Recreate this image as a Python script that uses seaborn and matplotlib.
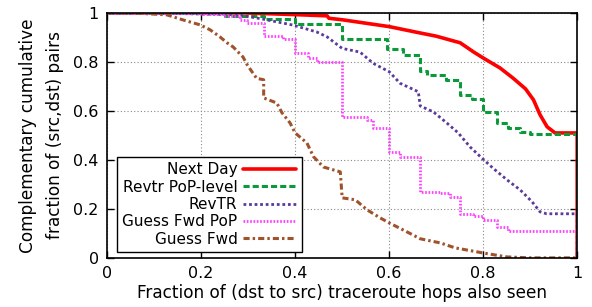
import matplotlib
matplotlib.use('Agg')
import matplotlib.pyplot as plt
import seaborn as sns
import pandas as pd

# points
next_day_x = [0, 0.29, 0.4, 0.468, 0.472, 0.5, 0.6, 0.666, 0.7, 0.751, 0.78, 0.8, 0.836, 0.864, 0.89,
              0.907, 0.921, 0.936, 0.953, 1.0, 1.0]
next_day_y = [1, 1, 0.993, 0.988, 0.978, 0.972, 0.944, 0.918, 0.905, 0.878, 0.84, 0.816, 0.775, 0.733, 0.69,
              0.645, 0.584, 0.535, 0.51, 0.51, 0]

pop_x = [0, 0.25, 0.333, 0.4, 0.5, 0.596, 0.63, 0.666, 0.68, 0.72, 0.75, 0.777, 0.8, 0.83, 0.853, 0.879,
         0.9, 1.0, 1.0]
pop_y = [1, 0.989, 0.974, 0.955, 0.893, 0.853, 0.829, 0.763, 0.747, 0.727, 0.665, 0.65, 0.597, 0.552, 0.53,
         0.515, 0.505, 0.505, 0]

revtr_x = [0, 0.16, 0.28, 0.333, 0.396, 0.446, 0.468, 0.5, 0.538, 0.566, 0.6, 0.623, 0.662, 0.666, 0.694,
           0.723, 0.747, 0.772, 0.798, 0.821, 0.851, 0.879, 0.904, 0.921, 0.935, 1.0, 1.0]
revtr_y = [1, 0.997, 0.992, 0.974, 0.95, 0.922, 0.902, 0.855, 0.84, 0.794, 0.76, 0.713, 0.678, 0.62, 0.596,
           0.55, 0.51, 0.453, 0.406, 0.366, 0.318, 0.277, 0.229, 0.188, 0.18, 0.18, 0]

gfpop_x = [0, 0.2, 0.247, 0.283, 0.298, 0.333, 0.375, 0.4, 0.428, 0.446, 0.5, 0.553, 0.566, 0.6, 0.623,
           0.666, 0.709, 0.73, 0.75, 0.779, 0.8, 0.83, 0.853, 1.0, 1.0]
gfpop_y = [1, 0.996, 0.988, 0.97, 0.96, 0.906, 0.894, 0.837, 0.816, 0.8, 0.576, 0.563, 0.53, 0.433, 0.412,
           0.269, 0.265, 0.25, 0.18, 0.171, 0.155, 0.127, 0.111, 0.111, 0]

gf_x = [0, 0.055, 0.127, 0.162, 0.198, 0.219, 0.24, 0.255, 0.268, 0.289, 0.298, 0.308, 0.318, 0.333, 0.333,
        0.361, 0.372, 0.389, 0.4, 0.425, 0.439, 0.46, 0.496, 0.5, 0.528, 0.553, 0.581, 0.6, 0.638, 0.666,
        0.709, 0.74, 0.8, 0.85, 0.9, 1.0]
gf_y = [1, 1, 0.992, 0.971, 0.951, 0.931, 0.902, 0.878, 0.861, 0.82, 0.788, 0.76, 0.733, 0.727, 0.653,
        0.632, 0.592, 0.551, 0.51, 0.469, 0.413, 0.371, 0.351, 0.245, 0.237, 0.196, 0.163, 0.143, 0.106, 0.078,
        0.061, 0.041, 0.02, 0.004, 0, 0]

labels = ['Next Day', 'Revtr PoP-level', 'RevTR', 'Guess Fwd PoP', 'Guess Fwd']
ticks = [0, 0.2, 0.4, 0.6, 0.8, 1]
tick_labels = ['0', '0.2', '0.4', '0.6', '0.8', '1']

sns.set_style('ticks')
plt.rcParams['font.family'] = ['DejaVu Sans']
for k in ['text.color', 'axes.labelcolor', 'xtick.color', 'ytick.color']:
    plt.rcParams[k] = 'black'

fig = plt.figure(figsize=(5.92, 3.07), dpi=100)
ax = fig.add_axes([0.181, 0.160, 0.794, 0.798])

series = [
    (next_day_x, next_day_y, '#ff0000', '-', 2.6, 'default'),
    (pop_x, pop_y, '#0a9a3a', (0, (2.0, 1.0)), 2.2, 'steps-post'),
    (revtr_x, revtr_y, '#5a3a9a', (0, (1.0, 1.0)), 2.0, 'default'),
    (gfpop_x, gfpop_y, '#ff40ff', (0, (0.6, 0.6)), 2.0, 'steps-post'),
    (gf_x, gf_y, '#a0522d', (0, (2.0, 1.0, 0.8, 1.0)), 2.2, 'default'),
]
for (xs, ys, col, ls, lw, ds), lab in zip(series, labels):
    df = pd.DataFrame({'x': xs, 'y': ys})
    sns.lineplot(data=df, x='x', y='y', ax=ax, color=col, linestyle=ls, linewidth=lw,
                 drawstyle=ds, sort=False, estimator=None, label=lab)

ax.set_xlim(0, 1)
ax.set_ylim(0, 1)
ax.set_xticks(ticks)
ax.set_xticklabels(tick_labels)
ax.set_yticks(ticks)
ax.set_yticklabels(tick_labels)
ax.tick_params(direction='in', length=5, width=1, labelsize=11.5, top=True, right=True, pad=6)
ax.grid(True, linestyle=(0, (1, 2)), color='#888888', linewidth=0.8)
for s in ax.spines.values():
    s.set_color('black')
    s.set_linewidth(1.2)

ax.set_xlabel('Fraction of (dst to src) traceroute hops also seen', fontsize=12.2, labelpad=2)
ax.set_ylabel('Complementary cumulative\nfraction of (src,dst) pairs', fontsize=12.2, labelpad=7,
              linespacing=1.6)

leg = ax.legend(loc='lower left', bbox_to_anchor=(0.021, 0.024), borderaxespad=0, markerfirst=False,
                fontsize=11, handlelength=3.5, frameon=True, fancybox=False, framealpha=1,
                edgecolor='black', labelspacing=0.15, borderpad=0.35, handletextpad=0.35)
leg.get_frame().set_linewidth(1.0)

fig.savefig('out.png', dpi=100)
